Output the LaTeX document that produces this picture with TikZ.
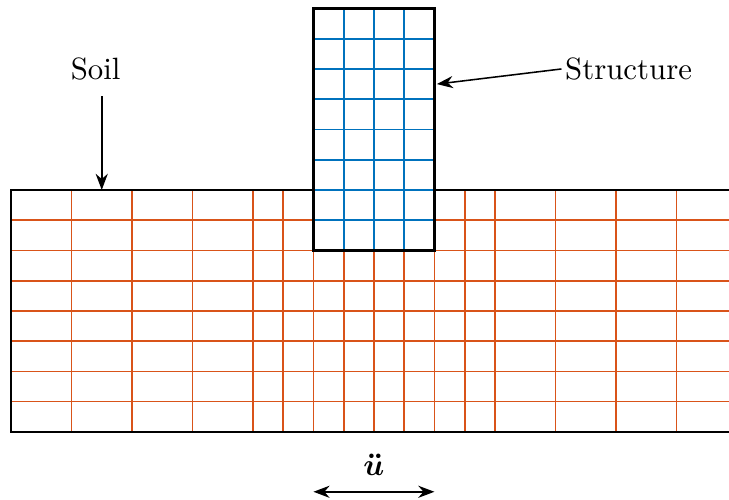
\documentclass[tikz,border=0pt]{standalone}
\usepackage{amsmath}
\usepackage{bm}
\usepackage{tikz}
\usetikzlibrary{arrows.meta}
\definecolor{soilorange}{HTML}{D95319}
\definecolor{structblue}{HTML}{0072BD}

\begin{document}
\begin{tikzpicture}[x=0.345cm,y=0.345cm]
  \useasboundingbox (-0.364,-10.25) rectangle (23.74,6.28);
  % soil mesh
  \foreach \yy in {-1,...,-7}
    \draw[soilorange,line width=0.55pt] (0,\yy) -- (23.74,\yy);
  \foreach \xx in {2,4,6,8,9,10,11,12,13,14,15,16,18,20,22}
    \draw[soilorange,line width=0.55pt] (\xx,0) -- (\xx,-8);
  \draw[line width=0.75pt] (23.74,0) -- (0,0) -- (0,-8) -- (23.74,-8);
  % structure mesh
  \fill[white] (10,-2) rectangle (14,6);
  \foreach \yy in {-1,...,5}
    \draw[structblue,line width=0.55pt] (10,\yy) -- (14,\yy);
  \foreach \xx in {11,12,13}
    \draw[structblue,line width=0.55pt] (\xx,-2) -- (\xx,6);
  \draw[line width=0.75pt] (10,-2) rectangle (14,6);
  % labels
  \node (soillbl) at (2.8,4) {Soil};
  \coordinate (soiltop) at (3,0);
  \draw[-{Stealth},line width=0.5pt] (3,3.1) -- (soiltop);
  \node[anchor=west,inner sep=1pt] (structlbl) at (18.2,4) {Structure};
  \coordinate (structside) at (14.08,3.5);
  \draw[-{Stealth},line width=0.5pt] (structlbl.west) -- (structside);
  \node (acclbl) at (12,-9.09) {$\bm{\ddot{u}}$};
  \coordinate (accl) at (10,-9.98);
  \coordinate (accr) at (14,-9.98);
  \draw[{Stealth}-{Stealth},line width=0.5pt] (accl) -- (accr);
\end{tikzpicture}
\end{document}
